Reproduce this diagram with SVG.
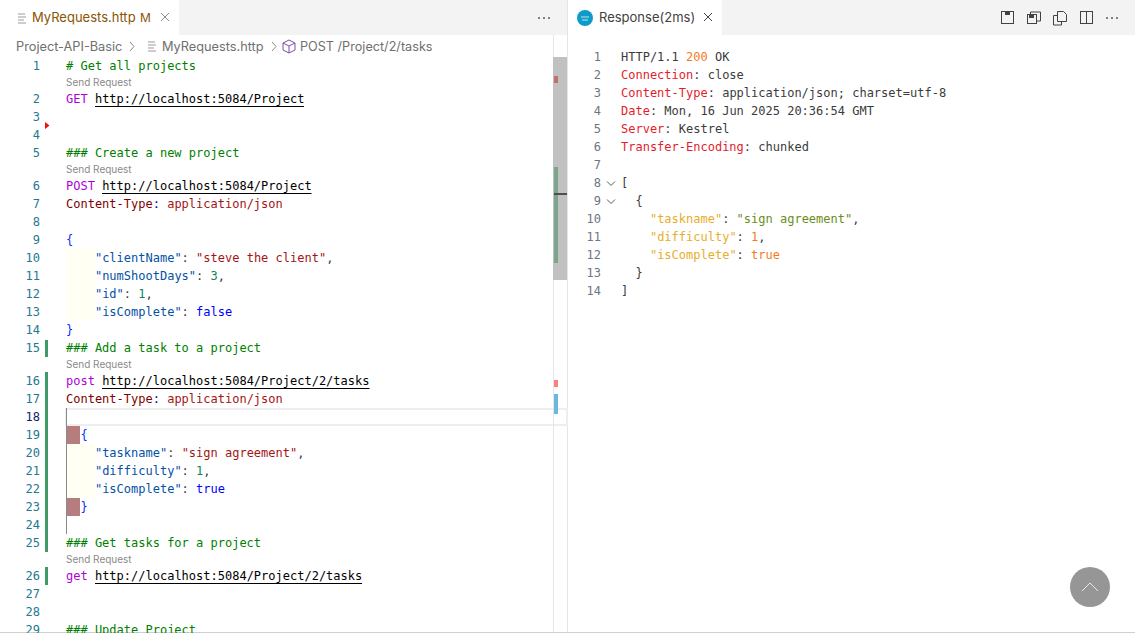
<svg xmlns="http://www.w3.org/2000/svg" width="1135" height="633" viewBox="0 0 1135 633">
<style>
text{white-space:pre}
.m{font-family:"DejaVu Sans Mono",monospace;font-size:12px}
.u{font-family:Inter,"Liberation Sans",Arial,sans-serif}
.n{fill:#237893;text-anchor:end}
.rn{fill:#6e7681;text-anchor:end}
.c{fill:#008000}.k{fill:#af00db}.t{fill:#000}.h{fill:#800000}.col{fill:#0000a0}.v{fill:#a31515}.j{fill:#0451a5}.s{fill:#a31515}.d{fill:#098658}.b{fill:#0000ff}.p{fill:#3b3b3b}.br{fill:#0431fa}
.sr{font-size:10px;fill:#8a8a8a}
.rh{fill:#e51c2c}.r{fill:#3b3b3b}.o{fill:#f57a1f}.y{fill:#e8ad2c}.g{fill:#6a8e1a}
.ic{fill:none;stroke:#424242;stroke-width:1}
.ul{stroke:#000;stroke-width:1}
.ch{fill:none;stroke:#5a5a5a;stroke-width:1}
</style>
<rect width="1135" height="633" fill="#fff"/>
<rect y="0" width="1135" height="35" fill="#f3f3f3"/>
<rect x="0" y="0" width="179" height="35" fill="#fff"/>
<rect x="568" y="0" width="154" height="35" fill="#fff"/>
<line x1="567.5" y1="0" x2="567.5" y2="633" stroke="#e5e5e5"/>
<rect y="632" width="1135" height="1" fill="#cfcfcf"/>
<!-- left tab -->
<path d="M18 14h7M18 17h8M18 20h6M18 23h8" fill="none" stroke="#9a9a9a"/>
<text class="u" x="32" y="22" font-size="13" fill="#895503">MyRequests.http</text>
<text class="u" x="140" y="22" font-size="12" fill="#895503">M</text>
<path d="M161 13l8 8M169 13l-8 8" stroke="#8c8c8c" fill="none"/>
<g fill="#5a5a5a"><circle cx="539" cy="18" r="1"/><circle cx="544" cy="18" r="1"/><circle cx="549" cy="18" r="1"/></g>
<!-- breadcrumb -->
<text class="u" x="16" y="51" font-size="12.750" fill="#6f6f6f">Project-API-Basic</text>
<path class="ch" d="M130 42l4 4.500-4 4.500" style="stroke:#8c8c8c"/>
<path d="M148 42h7M148 45h8M148 48h6M148 51h8" stroke="#9a9a9a" fill="none"/>
<text class="u" x="162" y="51" font-size="12.750" fill="#6f6f6f">MyRequests.http</text>
<path class="ch" d="M272 42l4 4.500-4 4.500" style="stroke:#8c8c8c"/>
<path d="M289 40l6 3v7l-6 3-6-3v-7zM283 43l6 3 6-3M289 46v7" fill="none" stroke="#7c4dab"/>
<text class="u" x="300" y="51" font-size="12.650" fill="#6f6f6f">POST /Project/2/tasks</text>
<!-- editor decorations -->
<g id="gutter-marks">
<path d="M45 122l4.500 3.500-4.500 3.500z" fill="#f01010"/>
<rect x="45" y="340" width="3" height="17" fill="#3f9a67"/>
<rect x="45" y="372" width="3" height="180" fill="#3f9a67"/>
<rect x="45" y="567" width="3" height="18" fill="#3f9a67"/>
<rect x="66" y="409" width="501" height="16" fill="#fff" stroke="#eeeeee" stroke-width="2"/>
<rect x="66" y="444" width="29" height="54" fill="#fffff4"/>
<rect x="66" y="426" width="14" height="18" fill="#b57d7d"/>
<rect x="66" y="498" width="14" height="18" fill="#b57d7d"/>
<line x1="66.500" y1="408" x2="66.500" y2="534" stroke="#8a8a8a"/>
<rect x="66" y="248" width="29" height="72" fill="#fffff4"/>
</g>
<!-- minimap/scroll -->
<g id="overview">
<line x1="553.500" y1="35" x2="553.500" y2="632" stroke="#e5e5e5"/>
<rect x="553" y="57" width="14" height="223" fill="#c1c1c1"/>
<rect x="554" y="76" width="4" height="7" fill="#c17070"/>
<rect x="554" y="167" width="4" height="96" fill="#7da58b"/>
<rect x="554" y="193" width="13" height="2" fill="#4f4f4f"/>
<rect x="554" y="380" width="4" height="7" fill="#f88080"/>
<rect x="554" y="394" width="4" height="20" fill="#68b8e0"/>
</g>
<!-- line numbers -->
<g class="m n">
<text x="40" y="70">1</text><text x="40" y="103">2</text><text x="40" y="121">3</text><text x="40" y="139">4</text><text x="40" y="157">5</text><text x="40" y="190">6</text><text x="40" y="208">7</text><text x="40" y="226">8</text><text x="40" y="244">9</text><text x="40" y="262">10</text><text x="40" y="280">11</text><text x="40" y="298">12</text><text x="40" y="316">13</text><text x="40" y="334">14</text><text x="40" y="352">15</text><text x="40" y="385">16</text><text x="40" y="403">17</text><text x="40" y="421" style="fill:#0b216f">18</text><text x="40" y="439">19</text><text x="40" y="457">20</text><text x="40" y="475">21</text><text x="40" y="493">22</text><text x="40" y="511">23</text><text x="40" y="529">24</text><text x="40" y="547">25</text><text x="40" y="580">26</text><text x="40" y="598">27</text><text x="40" y="616">28</text><text x="40" y="634">29</text>
</g>
<!-- code -->
<g class="m">
<text x="66" y="70" class="c"># Get all projects</text>
<text x="66" y="103"><tspan class="k">GET</tspan> <tspan class="t">http://localhost:5084/Project</tspan></text>
<text x="66" y="157" class="c">### Create a new project</text>
<text x="66" y="190"><tspan class="k">POST</tspan> <tspan class="t">http://localhost:5084/Project</tspan></text>
<text x="66" y="208"><tspan class="h">Content-Type</tspan><tspan class="col">:</tspan> <tspan class="v">application/json</tspan></text>
<text x="66" y="244" class="br">{</text>
<text x="66" y="262">    <tspan class="j">"clientName"</tspan><tspan class="p">:</tspan> <tspan class="s">"steve the client"</tspan><tspan class="p">,</tspan></text>
<text x="66" y="280">    <tspan class="j">"numShootDays"</tspan><tspan class="p">:</tspan> <tspan class="d">3</tspan><tspan class="p">,</tspan></text>
<text x="66" y="298">    <tspan class="j">"id"</tspan><tspan class="p">:</tspan> <tspan class="d">1</tspan><tspan class="p">,</tspan></text>
<text x="66" y="316">    <tspan class="j">"isComplete"</tspan><tspan class="p">:</tspan> <tspan class="b">false</tspan></text>
<text x="66" y="334" class="br">}</text>
<text x="66" y="352" class="c">### Add a task to a project</text>
<text x="66" y="385"><tspan class="k">post</tspan> <tspan class="t">http://localhost:5084/Project/2/tasks</tspan></text>
<text x="66" y="403"><tspan class="h">Content-Type</tspan><tspan class="col">:</tspan> <tspan class="v">application/json</tspan></text>
<text x="80.500" y="439" class="br">{</text>
<text x="66" y="457">    <tspan class="j">"taskname"</tspan><tspan class="p">:</tspan> <tspan class="s">"sign agreement"</tspan><tspan class="p">,</tspan></text>
<text x="66" y="475">    <tspan class="j">"difficulty"</tspan><tspan class="p">:</tspan> <tspan class="d">1</tspan><tspan class="p">,</tspan></text>
<text x="66" y="493">    <tspan class="j">"isComplete"</tspan><tspan class="p">:</tspan> <tspan class="b">true</tspan></text>
<text x="80.500" y="511" class="br">}</text>
<text x="66" y="547" class="c">### Get tasks for a project</text>
<text x="66" y="580"><tspan class="k">get</tspan> <tspan class="t">http://localhost:5084/Project/2/tasks</tspan></text>
<text x="66" y="634" class="c">### Update Project</text>
</g>
<g class="ul">
<line x1="95" y1="106.500" x2="304" y2="106.500"/>
<line x1="102" y1="193.500" x2="311.500" y2="193.500"/>
<line x1="102" y1="388.500" x2="369.500" y2="388.500"/>
<line x1="95" y1="583.500" x2="362" y2="583.500"/>
</g>
<g class="u sr">
<text x="66" y="86">Send Request</text><text x="66" y="173">Send Request</text><text x="66" y="368">Send Request</text><text x="66" y="563">Send Request</text>
</g>
<!-- response tab -->
<circle cx="585" cy="18" r="8" fill="#0e9bc9"/>
<path d="M581 17h8M582 20h6" stroke="#bfe6f2" stroke-width="1" fill="none"/>
<text class="u" x="599" y="22" font-size="13" fill="#3f3f3f">Response(2ms)</text>
<path d="M704 13l8 8M712 13l-8 8" stroke="#424242" fill="none"/>
<g id="toolbar" class="ic">
<rect x="1001.500" y="11.500" width="12" height="12"/><rect x="1005" y="12" width="5" height="3" fill="#424242" stroke="none"/>
<rect x="1027.500" y="14.500" width="9" height="9"/><path d="M1030.500 14.500v-2.500h10v9h-4"/><rect x="1029" y="15" width="5" height="3" fill="#424242" stroke="none"/>
<path d="M1057.500 11.500h6l3 3v7h-9zM1057.500 15.500h-4v9.500h8v-3.500"/>
<rect x="1080.500" y="11.500" width="12" height="12"/><path d="M1086.500 11.500v12"/>
</g>
<g fill="#5a5a5a"><circle cx="1107" cy="18" r="1"/><circle cx="1112" cy="18" r="1"/><circle cx="1117" cy="18" r="1"/></g>
<!-- response -->
<g class="m rn">
<text x="601" y="61">1</text><text x="601" y="79">2</text><text x="601" y="97">3</text><text x="601" y="115">4</text><text x="601" y="133">5</text><text x="601" y="151">6</text><text x="601" y="169">7</text><text x="601" y="187">8</text><text x="601" y="205">9</text><text x="601" y="223">10</text><text x="601" y="241">11</text><text x="601" y="259">12</text><text x="601" y="277">13</text><text x="601" y="295">14</text>
</g>
<path class="ch" d="M607 181.500l4 4 4-4M607 199.500l4 4 4-4"/>
<g class="m r">
<text x="621" y="61">HTTP/1.1 <tspan class="o">200</tspan> OK</text>
<text x="621" y="79"><tspan class="rh">Connection</tspan>: close</text>
<text x="621" y="97"><tspan class="rh">Content-Type</tspan>: application/json; charset=utf-8</text>
<text x="621" y="115"><tspan class="rh">Date</tspan>: Mon, 16 Jun 2025 20:36:54 GMT</text>
<text x="621" y="133"><tspan class="rh">Server</tspan>: Kestrel</text>
<text x="621" y="151"><tspan class="rh">Transfer-Encoding</tspan>: chunked</text>
<text x="621" y="187">[</text>
<text x="621" y="205">  {</text>
<text x="621" y="223">    <tspan class="y">"taskname"</tspan>: <tspan class="g">"sign agreement"</tspan>,</text>
<text x="621" y="241">    <tspan class="y">"difficulty"</tspan>: <tspan class="o">1</tspan>,</text>
<text x="621" y="259">    <tspan class="y">"isComplete"</tspan>: <tspan class="o">true</tspan></text>
<text x="621" y="277">  }</text>
<text x="621" y="295">]</text>
</g>
<!-- scroll to top -->
<circle cx="1090" cy="587" r="20" fill="#969696"/>
<path d="M1082 591l8-8 8 8" fill="none" stroke="#e8e8e8" stroke-width="1"/>
</svg>
